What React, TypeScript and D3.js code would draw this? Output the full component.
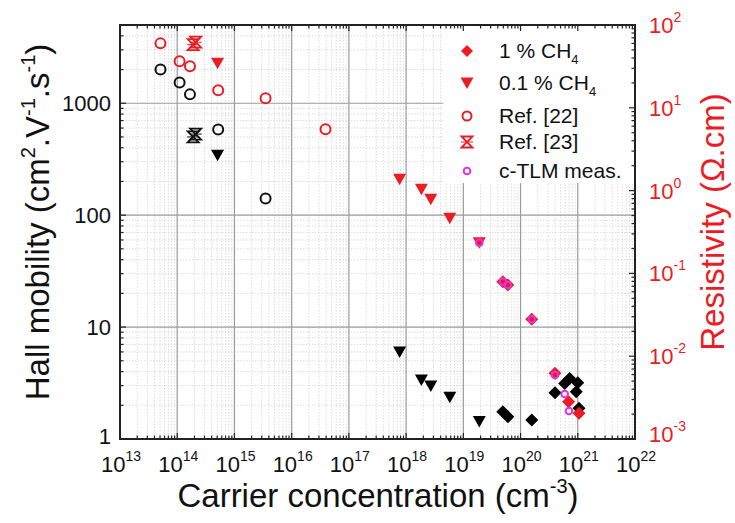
import React from "react";
import * as d3 from "d3";

// ---------- data ----------
const ref22X = [5.1e13, 1.1e14, 1.67e14, 5.2e14, 3.5e15];
const ref22Mobility = [2000, 1530, 1200, 582, 141];
const ref22RhoX = [5.1e13, 1.1e14, 1.67e14, 5.2e14, 3.5e15, 3.9e16];
const ref22Rho = [60, 36.5, 31.7, 16.3, 13.0, 5.5];

const ref23X = [1.9e14, 2.1e14];
const ref23Mobility = [500, 530];
const ref23Rho = [58, 62];

const ch401X = [5.07e14, 7.7e17, 1.85e18, 2.7e18, 5.8e18, 1.9e19];
const ch401Mobility = [343, 6.0, 3.36, 2.97, 2.36, 1.43];
const ch401Rho = [34.4, 1.37, 1.04, 0.785, 0.463, 0.235];

const ch41X = [4.9e19, 6.0e19, 1.57e20, 4.0e20, 5.9e20, 7.2e20, 1.0e21, 9.4e20, 1.05e21];
const ch41Mobility = [1.75, 1.58, 1.48, 2.59, 3.14, 3.48, 3.18, 2.64, 1.88];
const ch41RhoX = [4.9e19, 6.0e19, 1.57e20, 4.0e20, 6.9e20, 1.05e21];
const ch41Rho = [0.0794, 0.0725, 0.0279, 0.00621, 0.00282, 0.00204];

const tlmX = [1.9e19, 4.9e19, 6.0e19, 1.57e20, 4.0e20, 5.9e20, 7.0e20];
const tlmRho = [0.235, 0.0794, 0.0725, 0.0279, 0.00593, 0.00349, 0.00218];

const xExponents = [13, 14, 15, 16, 17, 18, 19, 20, 21, 22];
const leftTicks = [1, 10, 100, 1000];
const rightExponents = [-3, -2, -1, 0, 1, 2];
const legendLabels = ["1 % CH", "0.1 % CH", "Ref. [22]", "Ref. [23]", "c-TLM meas."];

// ---------- layout ----------
const W = 735;
const H = 523;
const L = 120, R = 635, T = 25, B = 439;
const RED = "#ec1c24";
const MAG = "#e033e6";
const FONT = "'Liberation Sans', Arial, sans-serif";

const x = d3.scaleLog().domain([1e13, 1e22]).range([L, R]);
const yL = d3.scaleLog().domain([1, 5000]).range([B, T]);
const yR = d3.scaleLog().domain([1e-3, 1e2]).range([B, T]);

const minors = (lo: number, hi: number) => {
  const out: number[] = [];
  for (let e = lo; e < hi; e++) for (let m = 2; m <= 9; m++) out.push(m * Math.pow(10, e));
  return out;
};

const diamond = (s: number) => `M0,${-s}L${s},0L0,${s}L${-s},0Z`;
const triDown = `M-6.5,-5.5L6.5,-5.5L0,6Z`;
const hourglass = `M-5.5,-5.5L5.5,-5.5L-5.5,5.5L5.5,5.5Z`;

function Ref23({ cx, cy, color }: { cx: number; cy: number; color: string }) {
  return (
    <g transform={`translate(${cx},${cy})`}>
      <path d={hourglass} fill="none" stroke={color} strokeWidth={1.8} />
      <path d="M-6,0L6,0" stroke={color} strokeWidth={1} />
    </g>
  );
}

export default function App() {
  const xMinor = minors(13, 22).filter((v) => v <= 1e22);
  const yLMinor = minors(0, 4).filter((v) => v <= 5000);
  const yRMinor = minors(-3, 2);

  return (
    <svg width={W} height={H} style={{ position: "absolute", left: 0, top: 0, background: "#fff" }} fontFamily={FONT}>
      <rect x={0} y={0} width={W} height={H} fill="#fff" />
      {/* minor grid */}
      <g stroke="#d4d4d4" strokeWidth={0.8} strokeDasharray="1.5,1.5">
        {xMinor.map((v, i) => (
          <line key={"gx" + i} x1={x(v)} x2={x(v)} y1={T} y2={B} />
        ))}
        {yLMinor.map((v, i) => (
          <line key={"gy" + i} x1={L} x2={R} y1={yL(v)} y2={yL(v)} />
        ))}
      </g>
      {/* major grid */}
      <g stroke="#9a9a9a" strokeWidth={1.2}>
        {xExponents.slice(1, -1).map((e) => (
          <line key={"Gx" + e} x1={x(Math.pow(10, e))} x2={x(Math.pow(10, e))} y1={T} y2={B} />
        ))}
        {leftTicks.slice(1).map((v) => (
          <line key={"Gy" + v} x1={L} x2={R} y1={yL(v)} y2={yL(v)} />
        ))}
      </g>

      {/* legend background */}
      <rect x={443} y={T + 1} width={R - 444} height={157} fill="#fff" />

      {/* ticks */}
      <g stroke="#222" strokeWidth={1.2}>
        {xExponents.map((e) => {
          const px = x(Math.pow(10, e));
          return (
            <g key={"tx" + e}>
              <line x1={px} x2={px} y1={B} y2={B - 6} />
              <line x1={px} x2={px} y1={T} y2={T + 6} />
            </g>
          );
        })}
        {xMinor.map((v, i) => (
          <g key={"txm" + i}>
            <line x1={x(v)} x2={x(v)} y1={B} y2={B - 3.5} />
            <line x1={x(v)} x2={x(v)} y1={T} y2={T + 3.5} />
          </g>
        ))}
        {leftTicks.map((v) => (
          <line key={"tl" + v} x1={L} x2={L + 6} y1={yL(v)} y2={yL(v)} />
        ))}
        {yLMinor.map((v, i) => (
          <line key={"tlm" + i} x1={L} x2={L + 3.5} y1={yL(v)} y2={yL(v)} />
        ))}
        {rightExponents.map((e) => (
          <line key={"tr" + e} x1={R} x2={R - 6} y1={yR(Math.pow(10, e))} y2={yR(Math.pow(10, e))} />
        ))}
        {yRMinor.map((v, i) => (
          <line key={"trm" + i} x1={R} x2={R - 3.5} y1={yR(v)} y2={yR(v)} />
        ))}
      </g>

      {/* frame */}
      <rect x={L} y={T} width={R - L} height={B - T} fill="none" stroke="#222" strokeWidth={2} />

      {/* data: mobility (black) */}
      <g fill="none" stroke="#111" strokeWidth={2}>
        {ref22X.map((v, i) => (
          <circle key={"bc" + i} cx={x(v)} cy={yL(ref22Mobility[i])} r={5} />
        ))}
      </g>
      {ref23X.map((v, i) => (
        <Ref23 key={"b23" + i} cx={x(v)} cy={yL(ref23Mobility[i])} color="#111" />
      ))}
      {ch401X.map((v, i) => (
        <path key={"bt" + i} d={triDown} transform={`translate(${x(v)},${yL(ch401Mobility[i])})`} fill="#000" />
      ))}
      {ch41X.map((v, i) => (
        <path key={"bd" + i} d={diamond(6.5)} transform={`translate(${x(v)},${yL(ch41Mobility[i])})`} fill="#000" />
      ))}

      {/* data: resistivity (red) */}
      <g fill="none" stroke={RED} strokeWidth={2}>
        {ref22RhoX.map((v, i) => (
          <circle key={"rc" + i} cx={x(v)} cy={yR(ref22Rho[i])} r={5} />
        ))}
      </g>
      {ref23X.map((v, i) => (
        <Ref23 key={"r23" + i} cx={x(v)} cy={yR(ref23Rho[i])} color={RED} />
      ))}
      {ch401X.map((v, i) => (
        <path key={"rt" + i} d={triDown} transform={`translate(${x(v)},${yR(ch401Rho[i])})`} fill={RED} />
      ))}
      {ch41RhoX.map((v, i) => (
        <path key={"rd" + i} d={diamond(6.5)} transform={`translate(${x(v)},${yR(ch41Rho[i])})`} fill={RED} />
      ))}
      <g fill="none" stroke={MAG} strokeWidth={2}>
        {tlmX.map((v, i) => (
          <circle key={"m" + i} cx={x(v)} cy={yR(tlmRho[i])} r={3.3} />
        ))}
      </g>

      {/* x tick labels */}
      <g fontSize={22} fill="#111">
        {xExponents.map((e) => (
          <text key={"xl" + e} x={x(Math.pow(10, e)) + 1} y={472} textAnchor="middle">
            10
            <tspan fontSize={14} dy={-11}>{e}</tspan>
          </text>
        ))}
      </g>
      {/* left tick labels */}
      <g fontSize={22} fill="#111" textAnchor="end">
        {leftTicks.map((v) => (
          <text key={"yl" + v} x={111} y={yL(v) + (v === 1 ? 5 : 8)}>
            {v}
          </text>
        ))}
      </g>
      {/* right tick labels */}
      <g fontSize={22} fill={RED}>
        {rightExponents.map((e) => (
          <text key={"yr" + e} x={649} y={yR(Math.pow(10, e)) + (e === -3 ? 3 : 8)}>
            10
            <tspan fontSize={14} dy={-11}>{e}</tspan>
          </text>
        ))}
      </g>

      {/* axis titles */}
      <text x={378} y={507} textAnchor="middle" fontSize={33} fill="#111">
        Carrier concentration (cm<tspan fontSize={20} dy={-14}>-3</tspan>
        <tspan dy={14}>)</tspan>
      </text>
      <text transform={`translate(49,${222}) rotate(-90)`} textAnchor="middle" fontSize={33} fill="#111">
        Hall mobility (cm<tspan fontSize={20} dy={-14}>2</tspan>
        <tspan dy={14}>.V</tspan>
        <tspan fontSize={20} dy={-14}>-1</tspan>
        <tspan dy={14}>.s</tspan>
        <tspan fontSize={20} dy={-14}>-1</tspan>
        <tspan dy={14}>)</tspan>
      </text>
      <text transform={`translate(724,${222}) rotate(-90)`} textAnchor="middle" fontSize={33} fill={RED}>
        Resistivity (Ω.cm)
      </text>

      {/* legend */}
      <g fontSize={21} fill="#111">
        <path d={diamond(6)} transform="translate(467,51)" fill={RED} />
        <text x={499} y={58}>
          {legendLabels[0]}
          <tspan fontSize={13} dy={6}>4</tspan>
        </text>
        <path d={triDown} transform="translate(467,83)" fill={RED} />
        <text x={499} y={90}>
          {legendLabels[1]}
          <tspan fontSize={13} dy={6}>4</tspan>
        </text>
        <circle cx={467} cy={116} r={4.5} fill="none" stroke={RED} strokeWidth={2} />
        <text x={499} y={123}>{legendLabels[2]}</text>
        <Ref23 cx={467} cy={142} color={RED} />
        <text x={499} y={149}>{legendLabels[3]}</text>
        <circle cx={467} cy={171} r={3.3} fill="none" stroke={MAG} strokeWidth={2} />
        <text x={499} y={178}>{legendLabels[4]}</text>
      </g>
    </svg>
  );
}
